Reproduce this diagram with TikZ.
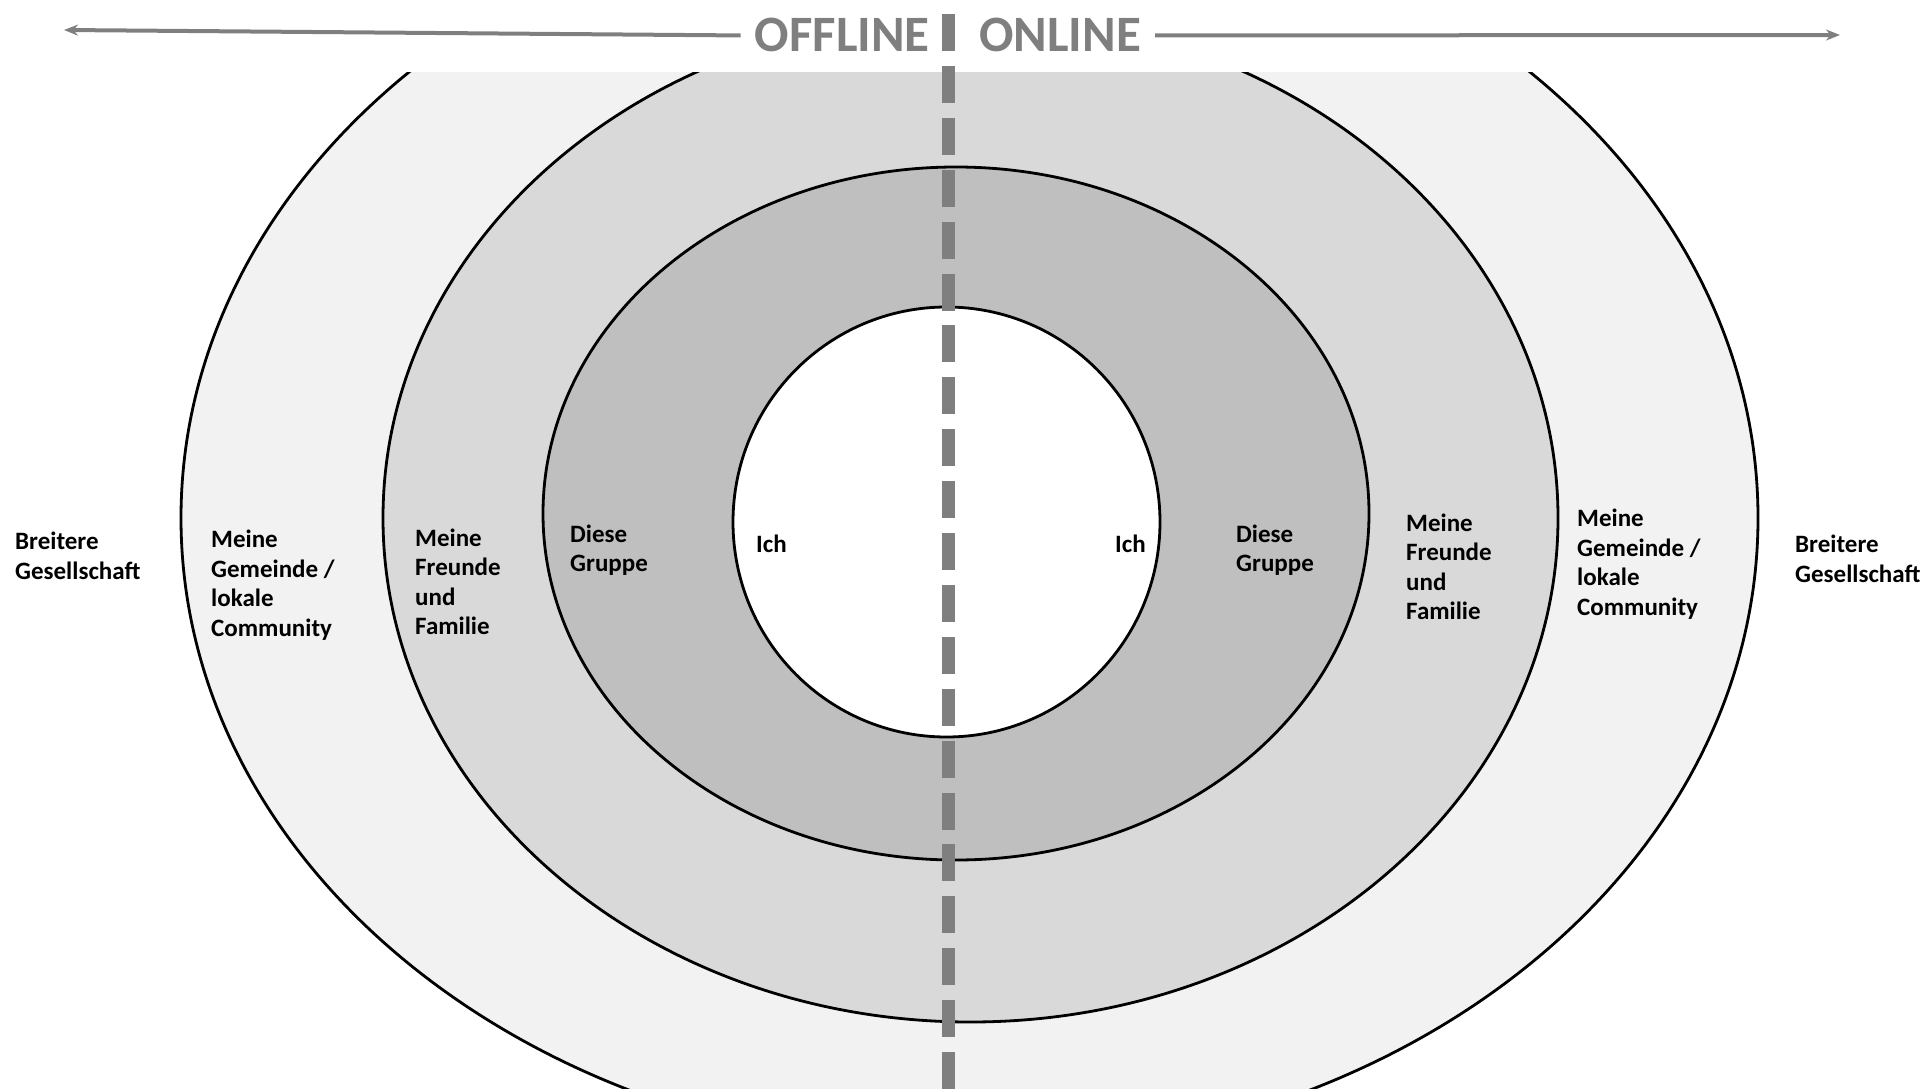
\documentclass[tikz,border=0pt]{standalone}
\usepackage{fontspec}
\setmainfont{Carlito}
\definecolor{mygray}{RGB}{127,127,127}
\definecolor{ringouter}{RGB}{242,242,242}
\definecolor{ringmid}{RGB}{217,217,217}
\definecolor{ringinner}{RGB}{191,191,191}
\usetikzlibrary{arrows.meta,positioning}

\begin{document}
\begin{tikzpicture}[x=1pt,y=-1pt,
    ring/.style={draw=black,line width=2.8pt},
    lbl/.style={anchor=west,inner sep=0pt,align=left,font=\fontsize{25}{29.5}\selectfont\bfseries},
    head/.style={inner ysep=0pt,inner xsep=14pt,text=mygray,font=\fontsize{51}{60}\selectfont\bfseries},
    arr/.style={draw=mygray,line width=4pt,-{Stealth[length=14pt,width=11pt]}},
    divider/.style={draw=mygray,line width=13.5pt,dash pattern=on 37pt off 14.9pt}
    ]
    \useasboundingbox (0,0) rectangle (1927,1089);

    % the rings
    \begin{scope}
    \clip (0,73) rectangle (1927,1089);
    \draw[ring,fill=ringouter] (969.5,518) ellipse [x radius=788.5pt,y radius=634pt];
    \draw[ring,fill=ringmid] (970.5,518) ellipse [x radius=587.5pt,y radius=504pt];
    \draw[ring,fill=ringinner] (956,513.5) ellipse [x radius=413pt,y radius=346.5pt];
    \draw[ring,fill=white] (946.5,522) ellipse [x radius=213.5pt,y radius=215pt];
    \end{scope}

    % the divider
    \coordinate (divtop) at (948.5,14);
    \coordinate (divbot) at (948.5,1089);
    \draw[divider] (divtop) -- (divbot);

    % the header
    \node[head,anchor=base east] (offline) at (944,52) {OFFLINE};
    \node[head,anchor=base west] (online) at (965,52) {ONLINE};
    \coordinate (lefttip) at (64,30);
    \coordinate (righttip) at (1840,35);
    \draw[arr] (offline.west) -- (lefttip);
    \draw[arr] (online.east) -- (righttip);

    % the offline labels
    \node[lbl] (offsoc) at (15,556) {Breitere\\Gesellschaft};
    \node[lbl] (offcom) at (211,585) {Meine\\Gemeinde /\\lokale\\Community};
    \node[lbl] (offfam) at (415,582) {Meine\\Freunde\\und\\Familie};
    \node[lbl] (offgrp) at (570,550) {Diese\\Gruppe};
    \node[lbl] (offme) at (756,544) {Ich};

    % the online labels
    \node[lbl] (onme) at (1115,544) {Ich};
    \node[lbl] (ongrp) at (1236,550) {Diese\\Gruppe};
    \node[lbl] (onfam) at (1406,567) {Meine\\Freunde\\und\\Familie};
    \node[lbl] (oncom) at (1577,564) {Meine\\Gemeinde /\\lokale\\Community};
    \node[lbl] (onsoc) at (1795,559) {Breitere\\Gesellschaft};

\end{tikzpicture}
\end{document}
